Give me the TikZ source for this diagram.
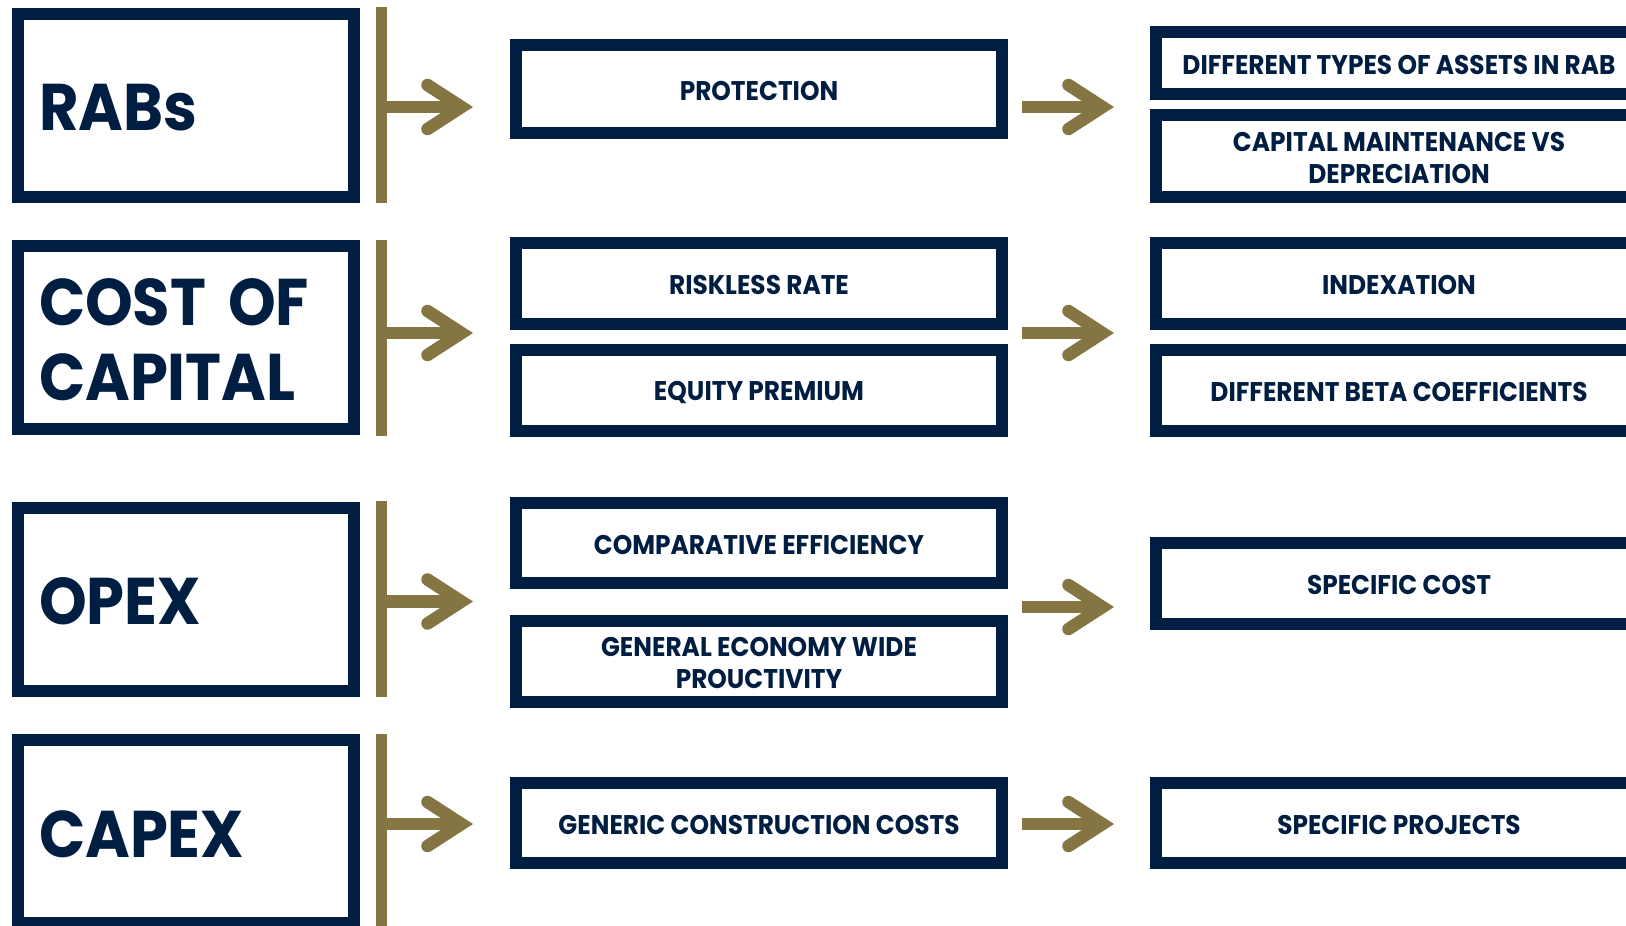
\documentclass[tikz,border=0pt]{standalone}
\usepackage{fontspec}
\usepackage{xcolor}
\usetikzlibrary{arrows.meta, positioning}
\newfontfamily\boxfont{Poppins}[FakeStretch=0.92]
\definecolor{navy}{RGB}{0,30,66}
\definecolor{gold}{RGB}{133,117,67}

\begin{document}
\begin{tikzpicture}[
    x=1pt, y=-1pt,
    headbox/.style={rectangle, draw=navy, line width=12pt, outer sep=0pt, minimum width=336pt, minimum height=183pt, inner xsep=21pt, text width=294pt, text height=52pt, align=left, text=navy, font=\boxfont\bfseries\fontsize{66}{75}\selectfont},
    bar/.style={rectangle, fill=gold, inner sep=0pt, outer sep=0pt, minimum width=11pt, minimum height=196pt},
    itembox/.style={rectangle, draw=navy, line width=12pt, outer sep=0pt, minimum width=486pt, inner sep=0pt, text height=23pt, align=center, text=navy, font=\boxfont\bfseries\fontsize{27}{32}\selectfont},
    twolines/.style={text height=55pt},
    flow/.style={draw=gold, line width=12.5pt, -{Straight Barb[length=34pt, width=44pt, line cap=round, line join=miter]}}
]
\clip (0,0) rectangle (1626,926);

% left column
\node[headbox] (rabs) at (186,105) {RABs};
\node[headbox] (cost) at (186,337.5) {COST OF\\CAPITAL};
\node[headbox] (opex) at (186,599) {OPEX};
\node[headbox] (capex) at (186,831.5) {CAPEX};
\node[bar, right=22pt of rabs] (rabsbar) {};
\node[bar, right=22pt of cost] (costbar) {};
\node[bar, right=22pt of opex] (opexbar) {};
\node[bar, right=22pt of capex] (capexbar) {};

% middle column
\node[itembox, minimum height=88pt] (protection) at (759,89) {PROTECTION};
\node[itembox, minimum height=81pt] (riskless) at (759,283.5) {RISKLESS RATE};
\node[itembox, minimum height=81pt, below=26pt of riskless] (equity) {EQUITY PREMIUM};
\node[itembox, minimum height=80pt] (comparative) at (759,543) {COMPARATIVE EFFICIENCY};
\node[itembox, twolines, minimum height=81pt, below=38pt of comparative] (economy) {GENERAL ECONOMY WIDE\\PROUCTIVITY};
\node[itembox, minimum height=80pt] (construction) at (759,823) {GENERIC CONSTRUCTION COSTS};

% right column
\node[itembox, minimum height=62pt] (assettypes) at (1399,63) {DIFFERENT TYPES OF ASSETS IN RAB};
\node[itembox, twolines, minimum height=82pt, below=21pt of assettypes] (maintenance) {CAPITAL MAINTENANCE VS\\DEPRECIATION};
\node[itembox, minimum height=81pt] (indexation) at (1399,283.5) {INDEXATION};
\node[itembox, minimum height=81pt, below=26pt of indexation] (beta) {DIFFERENT BETA COEFFICIENTS};
\node[itembox, minimum height=81pt] (specificcost) at (1399,583.5) {SPECIFIC COST};
\node[itembox, minimum height=80pt] (projects) at (1399,823) {SPECIFIC PROJECTS};

% arrow rows
\coordinate (row1) at (0,107);
\coordinate (row2) at (0,333);
\coordinate (row3) at (0,601.5);
\coordinate (row3b) at (0,607);
\coordinate (row4) at (0,824);

\draw[flow, shorten >=43pt] (rabsbar.east |- row1) -- (protection.west |- row1);
\draw[flow, shorten >=43pt] (costbar.east |- row2) -- (riskless.west |- row2);
\draw[flow, shorten >=43pt] (opexbar.east |- row3) -- (comparative.west |- row3);
\draw[flow, shorten >=43pt] (capexbar.east |- row4) -- (construction.west |- row4);

\draw[flow, shorten <=20pt, shorten >=42pt] (protection.east |- row1) -- (assettypes.west |- row1);
\draw[flow, shorten <=20pt, shorten >=42pt] (riskless.east |- row2) -- (indexation.west |- row2);
\draw[flow, shorten <=20pt, shorten >=42pt] (comparative.east |- row3b) -- (specificcost.west |- row3b);
\draw[flow, shorten <=20pt, shorten >=42pt] (construction.east |- row4) -- (projects.west |- row4);

\end{tikzpicture}
\end{document}
